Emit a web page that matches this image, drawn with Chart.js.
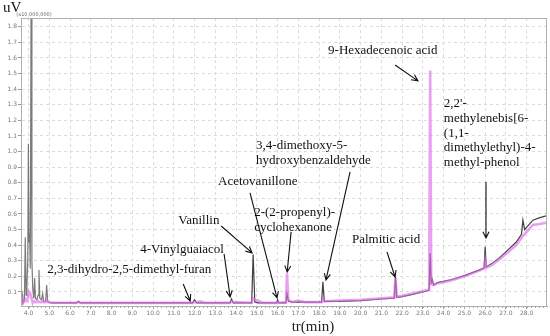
<!DOCTYPE html>
<html>
<head>
<meta charset="utf-8">
<script src="https://cdn.jsdelivr.net/npm/chart.js@4.4.1/dist/chart.umd.min.js"></script>
<style>
  html, body { margin: 0; padding: 0; background: #fff; }
  #wrap { position: relative; width: 550px; height: 336px; }
</style>
</head>
<body>
<div id="wrap"><canvas id="gcChart" width="550" height="336"></canvas></div>
<script>
// retention time (min) and detector signal (x10,000,000 uV)
const retentionTime = [
  3.64, 3.68, 3.71, 3.74, 3.80, 3.84, 3.88, 3.92, 3.96, 3.99, 4.02, 4.05, 4.08, 4.12, 4.16,
  4.20, 4.25, 4.29, 4.33, 4.40, 4.46, 4.50, 4.54, 4.62, 4.68, 4.72, 4.82, 4.87, 4.92, 5.05,
  6.30, 6.40, 6.50, 11.90, 12.00, 12.10, 12.30, 12.50, 13.70, 13.78, 13.86, 14.75, 14.82, 14.90,
  15.05, 15.30, 15.95, 16.00, 16.05, 16.40, 16.45, 16.52, 16.70, 17.00, 17.30, 18.12, 18.18,
  18.25, 19.00, 20.00, 21.00, 21.62, 21.68, 21.74, 22.00, 22.50, 23.00, 23.30, 23.35, 23.40,
  23.45, 23.52, 23.70, 24.40, 25.00, 25.70, 25.95, 26.00, 26.05, 26.30, 26.70, 27.10, 27.50,
  27.75, 27.82, 27.90, 28.30, 28.60, 28.98
];
const signalBlack = [
  0.03, 0.05, 0.08, 0.03, 0.05, 0.45, 0.08, 0.15, 0.30, 1.05, 0.42, 0.48, 0.25, 1.95, 0.30,
  0.12, 0.06, 0.19, 0.06, 0.05, 0.08, 0.24, 0.06, 0.05, 0.09, 0.04, 0.04, 0.145, 0.04, 0.03,
  0.03, 0.04, 0.03, 0.03, 0.05, 0.03, 0.03, 0.03, 0.03, 0.055, 0.03, 0.03, 0.34, 0.035,
  0.03, 0.03, 0.03, 0.05, 0.03, 0.03, 0.09, 0.04, 0.035, 0.035, 0.035, 0.035, 0.165,
  0.04, 0.04, 0.045, 0.055, 0.06, 0.195, 0.065, 0.07, 0.085, 0.10, 0.11, 0.35, 0.16,
  0.18, 0.145, 0.16, 0.18, 0.205, 0.24, 0.255, 0.39, 0.26, 0.28, 0.32, 0.37, 0.42,
  0.47, 0.56, 0.50, 0.56, 0.575, 0.59
];
const signalPink = [
  0.03, 0.04, 0.05, 0.03, 0.04, 0.05, 0.04, 0.05, 0.06, 0.08, 0.10, 0.10, 0.09, 0.07, 0.05,
  0.04, 0.035, 0.04, 0.035, 0.035, 0.04, 0.04, 0.035, 0.035, 0.04, 0.035, 0.035, 0.045, 0.035, 0.032,
  0.03, 0.035, 0.03, 0.03, 0.035, 0.035, 0.04, 0.03, 0.03, 0.04, 0.035, 0.03, 0.06, 0.05,
  0.045, 0.03, 0.03, 0.035, 0.03, 0.035, 0.22, 0.05, 0.035, 0.045, 0.035, 0.035, 0.05,
  0.04, 0.045, 0.05, 0.06, 0.065, 0.19, 0.07, 0.075, 0.09, 0.105, 0.115, 1.52, 0.20,
  0.15, 0.145, 0.155, 0.175, 0.20, 0.235, 0.25, 0.30, 0.255, 0.27, 0.31, 0.355, 0.40,
  0.445, 0.46, 0.47, 0.53, 0.535, 0.545
];
const xTicks = [4, 5, 6, 7, 8, 9, 10, 11, 12, 13, 14, 15, 16, 17, 18, 19, 20, 21, 22, 23, 24, 25, 26, 27, 28];
const yTicks = [0.1, 0.2, 0.3, 0.4, 0.5, 0.6, 0.7, 0.8, 0.9, 1.0, 1.1, 1.2, 1.3, 1.4, 1.5, 1.6, 1.7, 1.8];

// peak labels: text position and arrow, in axis units (min, signal)
const peakLabels = [
  { lines: ['2,3-dihydro-2,5-dimethyl-furan'], at: [4.90, 0.241], from: [11.45, 0.151], to: [11.79, 0.042] },
  { lines: ['4-Vinylguaiacol'], at: [9.38, 0.369], from: [13.42, 0.344], to: [13.71, 0.068] },
  { lines: ['Vanillin'], at: [11.21, 0.555], from: [13.28, 0.523], to: [14.77, 0.35] },
  { lines: ['Acetovanillone'], at: [13.13, 0.805], from: [14.67, 0.735], to: [15.97, 0.062] },
  { lines: ['2-(2-propenyl)-', 'cyclohexanone'], at: [14.87, 0.606], from: [16.65, 0.485], to: [16.46, 0.228] },
  { lines: ['3,4-dimethoxy-5-', 'hydroxybenzaldehyde'], at: [14.96, 1.036], from: [19.49, 0.869], to: [18.33, 0.177] },
  { lines: ['Palmitic acid'], at: [19.58, 0.433], from: [21.27, 0.356], to: [21.66, 0.196] },
  { lines: ['9-Hexadecenoic acid'], at: [18.43, 1.645], from: [21.66, 1.555], to: [22.76, 1.453] },
  { lines: ["2,2'-", 'methylenebis[6-', '(1,1-', 'dimethylethyl)-4-', 'methyl-phenol'], at: [24.01, 1.305], from: [26.04, 0.805], to: [26.04, 0.446] }
];

const serif = '"Liberation Serif", "DejaVu Serif", serif';

const decorPlugin = {
  id: 'decor',
  afterDatasetsDraw(chart) {
    const { ctx, chartArea: a, scales: { x, y } } = chart;
    ctx.save();
    // frame
    ctx.strokeStyle = '#b0b0b0';
    ctx.lineWidth = 1;
    ctx.strokeRect(a.left + 0.5, a.top + 0.5, a.right - a.left - 1, a.bottom - a.top);

    // minor ticks on the time axis
    ctx.strokeStyle = '#aaa';
    ctx.beginPath();
    for (let t = 4; t <= 28.8; t += 0.2) {
      const px = Math.round(x.getPixelForValue(t)) + 0.5;
      ctx.moveTo(px, a.bottom);
      ctx.lineTo(px, a.bottom + 2);
    }
    ctx.stroke();

    // peak labels and arrows
    ctx.fillStyle = '#111';
    ctx.strokeStyle = '#111';
    ctx.font = '13px ' + serif;
    ctx.textBaseline = 'middle';
    ctx.textAlign = 'left';
    peakLabels.forEach(p => {
      const tx = x.getPixelForValue(p.at[0]);
      const ty = y.getPixelForValue(p.at[1]);
      p.lines.forEach((s, i) => ctx.fillText(s, tx, ty + i * 14.7));
      const x1 = x.getPixelForValue(p.from[0]), y1 = y.getPixelForValue(p.from[1]);
      const x2 = x.getPixelForValue(p.to[0]), y2 = y.getPixelForValue(p.to[1]);
      ctx.lineWidth = 1.1;
      ctx.beginPath();
      ctx.moveTo(x1, y1);
      ctx.lineTo(x2, y2);
      const ang = Math.atan2(y2 - y1, x2 - x1);
      ctx.moveTo(x2 - 7 * Math.cos(ang - 0.45), y2 - 7 * Math.sin(ang - 0.45));
      ctx.lineTo(x2, y2);
      ctx.lineTo(x2 - 7 * Math.cos(ang + 0.45), y2 - 7 * Math.sin(ang + 0.45));
      ctx.stroke();
    });

    // unit labels
    ctx.font = '15px ' + serif;
    ctx.textAlign = 'left';
    ctx.fillText('uV', 3, 8);
    ctx.font = '5px "DejaVu Sans", sans-serif';
    ctx.fillStyle = '#666';
    ctx.textAlign = 'center';
    ctx.fillText('(x10,000,000)', 34, 15);
    ctx.font = '15px ' + serif;
    ctx.fillStyle = '#222';
    ctx.fillText('tr(min)', x.getPixelForValue(17.7), 327);
    ctx.restore();
  }
};

const tickFont = { family: '"DejaVu Sans", sans-serif', size: 6 };

new Chart(document.getElementById('gcChart'), {
  type: 'line',
  data: {
    datasets: [
      {
        label: 'trace 1',
        data: retentionTime.map((t, i) => ({ x: t, y: signalBlack[i] })),
        borderColor: 'rgba(30,30,30,0.85)',
        // the solvent-front peaks print lighter in the original
        segment: { borderColor: c => c.p0.parsed.x < 5 ? 'rgba(90,90,90,0.8)' : undefined },
        borderWidth: 1.2,
        pointRadius: 0,
        tension: 0,
        order: 2
      },
      {
        label: 'trace 2',
        data: retentionTime.map((t, i) => ({ x: t, y: signalPink[i] })),
        borderColor: 'rgba(225,110,235,0.65)',
        borderWidth: 2.6,
        pointRadius: 0,
        tension: 0,
        order: 1
      }
    ]
  },
  options: {
    responsive: false,
    animation: false,
    layout: { padding: { top: 18, right: 3, left: 0, bottom: 0 } },
    plugins: { legend: { display: false }, tooltip: { enabled: false } },
    scales: {
      x: {
        type: 'linear',
        min: 3.634,
        max: 28.98,
        afterBuildTicks: axis => { axis.ticks = xTicks.map(v => ({ value: v })); },
        afterFit: axis => { axis.height = 30; },
        ticks: {
          font: tickFont,
          color: '#777',
          padding: 1,
          maxRotation: 0,
          autoSkip: false,
          callback: v => v.toFixed(1)
        },
        grid: { color: '#dcdcdc', tickLength: 3, tickColor: '#999' },
        border: { color: '#999', dash: [3, 3] }
      },
      y: {
        min: 0.01,
        max: 1.856,
        afterBuildTicks: axis => { axis.ticks = yTicks.map(v => ({ value: v })); },
        afterFit: axis => { axis.width = 21; },
        ticks: {
          font: tickFont,
          color: '#777',
          padding: 1,
          autoSkip: false,
          callback: v => v.toFixed(1)
        },
        grid: { color: '#dcdcdc', tickLength: 3, tickColor: '#999' },
        border: { color: '#999', dash: [3, 3] }
      }
    }
  },
  plugins: [decorPlugin]
});
</script>
</body>
</html>
